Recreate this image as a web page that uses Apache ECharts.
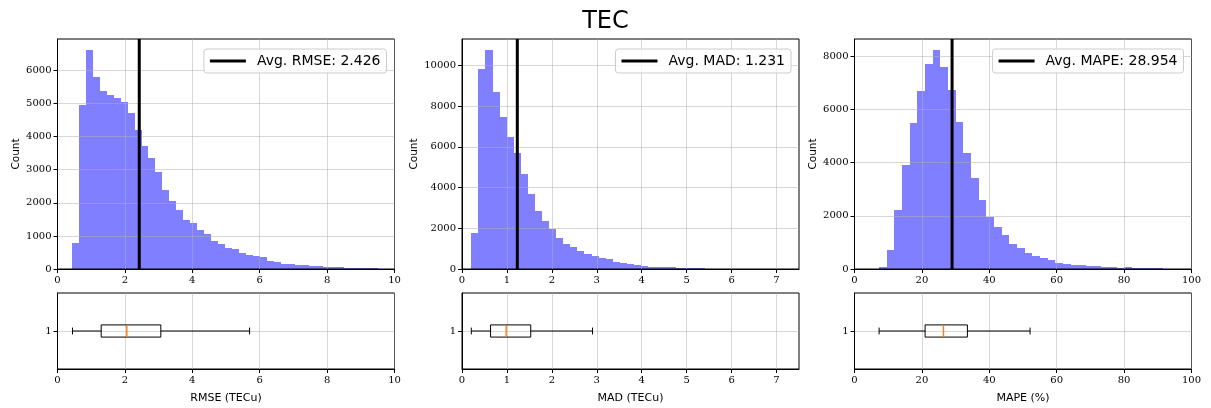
<!DOCTYPE html>
<html>
<head>
<meta charset="utf-8">
<script src="https://cdn.jsdelivr.net/npm/echarts@6/dist/echarts.min.js"></script>
<style>
  html, body { margin: 0; padding: 0; background: #fff; }
  #chart { width: 1211px; height: 408px; }
</style>
</head>
<body>
<div id="chart"></div>
<script>
// Histogram counts (equal-width bins starting at binStart)
const rmseCounts = [780, 4950, 6620, 5800, 5370, 5250, 5160, 5040, 4700, 4190, 3730, 3340, 2940, 2390, 2060, 1790,
  1490, 1380, 1190, 1070, 856, 765, 642, 612, 490, 428, 398, 367, 245, 214, 153, 150, 122, 120, 92, 90, 61, 60, 58,
  31, 30, 28, 26, 24];
const rmseBinStart = 0.425;
const rmseBinWidth = 0.2068;

const madCounts = [1790, 9820, 10760, 8700, 7450, 6460, 5720, 4690, 3700, 2870, 2376, 1980, 1535, 1238, 1090, 890,
  740, 640, 545, 495, 345, 296, 247, 197, 148, 110, 100, 99, 95, 50, 48, 45, 40];
const madBinStart = 0.207;
const madBinWidth = 0.1574;

const mapeCounts = [80, 730, 2230, 3930, 5480, 6690, 7710, 8240, 7590, 6730, 5520, 4350, 3440, 2610, 1960, 1590,
  1285, 945, 793, 605, 491, 403, 340, 227, 189, 151, 145, 113, 110, 76, 75, 38, 76, 38, 35, 30, 25];
const mapeBinStart = 7.3;
const mapeBinWidth = 2.275;

// Averages shown as vertical lines
const rmseMean = 2.426;
const madMean = 1.231;
const mapeMean = 28.954;

// Box plot summaries: [lower whisker, Q1, median, Q3, upper whisker]
const rmseBox = [0.445, 1.296, 2.057, 3.066, 5.70];
const madBox = [0.207, 0.636, 0.983, 1.53, 2.905];
const mapeBox = [7.3, 20.95, 26.4, 33.5, 52.1];

// Axis ranges and tick values
const rmseXMax = 10;
const madXMax = 7.5;
const mapeXMax = 100;
const rmseXTicks = [0, 2, 4, 6, 8, 10];
const madXTicks = [0, 1, 2, 3, 4, 5, 6, 7];
const mapeXTicks = [0, 20, 40, 60, 80, 100];
const rmseYTicks = [0, 1000, 2000, 3000, 4000, 5000, 6000];
const madYTicks = [0, 2000, 4000, 6000, 8000, 10000];
const mapeYTicks = [0, 2000, 4000, 6000, 8000];
const boxYTicks = [1];

const titleText = 'TEC';
const countLabel = 'Count';
const rmseName = 'RMSE (TECu)';
const madName = 'MAD (TECu)';
const mapeName = 'MAPE (%)';

const panels = [
  { counts: rmseCounts, start: rmseBinStart, width: rmseBinWidth, mean: rmseMean, box: rmseBox,
    xMax: rmseXMax, xTicks: rmseXTicks, yTicks: rmseYTicks, metric: 'RMSE', xName: rmseName,
    left: 57.5, countGap: 36 },
  { counts: madCounts, start: madBinStart, width: madBinWidth, mean: madMean, box: madBox,
    xMax: madXMax, xTicks: madXTicks, yTicks: madYTicks, metric: 'MAD', xName: madName,
    left: 462, countGap: 42 },
  { counts: mapeCounts, start: mapeBinStart, width: mapeBinWidth, mean: mapeMean, box: mapeBox,
    xMax: mapeXMax, xTicks: mapeXTicks, yTicks: mapeYTicks, metric: 'MAPE', xName: mapeName,
    left: 854.5, countGap: 36 }
];

const W = 1211;
const PLOT_W = 337;
const HIST_TOP = 39, HIST_H = 230;
const BOX_TOP = 293, BOX_H = 76;
const SERIF = 'DejaVu Serif';
const SANS = 'DejaVu Sans';
const GRID_COLOR = 'rgba(176,176,176,0.5)';
const BAR_FILL = 'rgba(0,0,255,0.5)';
const MEDIAN_COLOR = '#ff7f0e';

function valueAxis(gridIndex, min, max, ticks, extra) {
  return Object.assign({
    type: 'value', gridIndex, min, max, z: 3,
    axisLine: { show: true, onZero: false, lineStyle: { color: '#000', width: 1 } },
    axisTick: { show: true, customValues: ticks, length: 4, lineStyle: { color: '#000', width: 1 } },
    axisLabel: { show: true, customValues: ticks, formatter: v => String(v),
      fontFamily: SERIF, fontSize: 10, color: '#000', margin: 6 },
    splitLine: { show: true, lineStyle: { color: GRID_COLOR, width: 1 } }
  }, extra || {});
}

// Bars are snapped to whole pixels so neighbouring bins join without seams
function renderBar(params, api) {
  const p0 = api.coord([api.value(0), 0]);
  const p1 = api.coord([api.value(1), api.value(2)]);
  const x0 = Math.round(p0[0]), x1 = Math.round(p1[0]);
  const yb = Math.round(p0[1]), yt = Math.round(p1[1]);
  return {
    type: 'rect',
    shape: { x: x0, y: yt, width: x1 - x0, height: yb - yt },
    style: { fill: BAR_FILL }
  };
}

// Horizontal box plot: whiskers with caps, box from Q1 to Q3, median line
function renderBox(params, api) {
  const lo = api.coord([api.value(0), 1]);
  const q1 = api.coord([api.value(1), 1]);
  const med = api.coord([api.value(2), 1]);
  const q3 = api.coord([api.value(3), 1]);
  const hi = api.coord([api.value(4), 1]);
  const bh = api.size([0, 0.16])[1] / 2;
  const ch = api.size([0, 0.09])[1] / 2;
  const y = lo[1];
  const line = (x1, y1, x2, y2, color, w) => ({
    type: 'line', shape: { x1, y1, x2, y2 },
    style: { stroke: color || '#000', lineWidth: w || 1 }
  });
  return {
    type: 'group',
    children: [
      line(lo[0], y, q1[0], y),
      line(q3[0], y, hi[0], y),
      line(lo[0], y - ch, lo[0], y + ch),
      line(hi[0], y - ch, hi[0], y + ch),
      { type: 'rect', shape: { x: q1[0], y: y - bh, width: q3[0] - q1[0], height: 2 * bh },
        style: { fill: 'none', stroke: '#000', lineWidth: 1 } },
      line(med[0], y - bh, med[0], y + bh, MEDIAN_COLOR, 1.4)
    ]
  };
}

const grid = [], xAxis = [], yAxis = [], series = [], legend = [];

panels.forEach((p, i) => {
  const hg = 2 * i, bg = 2 * i + 1;
  const yMax = Math.max(...p.counts) * 1.05;
  const legendName = 'Avg. ' + p.metric + ': ' + p.mean.toFixed(3);

  grid.push({ left: p.left, top: HIST_TOP, width: PLOT_W, height: HIST_H,
    show: true, borderColor: '#000', borderWidth: 1, z: 3 });
  grid.push({ left: p.left, top: BOX_TOP, width: PLOT_W, height: BOX_H,
    show: true, borderColor: '#000', borderWidth: 1, z: 3 });

  xAxis.push(valueAxis(hg, 0, p.xMax, p.xTicks));
  yAxis.push(valueAxis(hg, 0, yMax, p.yTicks, {
    name: countLabel, nameLocation: 'middle', nameGap: p.countGap,
    nameTextStyle: { fontFamily: SANS, fontSize: 10.5, color: '#000' }
  }));
  xAxis.push(valueAxis(bg, 0, p.xMax, p.xTicks, {
    name: p.xName, nameLocation: 'middle', nameGap: 24,
    nameTextStyle: { fontFamily: SANS, fontSize: 11, color: '#000' }
  }));
  yAxis.push(valueAxis(bg, 0.5, 1.5, boxYTicks));

  series.push({
    type: 'custom', xAxisIndex: hg, yAxisIndex: hg, z: 2, silent: true, clip: true,
    renderItem: renderBar,
    encode: { x: [0, 1], y: 2 },
    data: p.counts.map((c, k) => [p.start + k * p.width, p.start + (k + 1) * p.width, c])
  });
  series.push({
    type: 'line', name: legendName, xAxisIndex: hg, yAxisIndex: hg, z: 5, silent: true,
    symbol: 'none', lineStyle: { color: '#000', width: 3 }, itemStyle: { color: '#000' },
    data: [[p.mean, 0], [p.mean, yMax]]
  });
  series.push({
    type: 'custom', xAxisIndex: bg, yAxisIndex: bg, z: 4, silent: true,
    renderItem: renderBox,
    encode: { x: [0, 1, 2, 3, 4] },
    data: [p.box]
  });

  legend.push({
    data: [legendName], selectedMode: false,
    right: W - (p.left + PLOT_W) + 8, top: 49,
    icon: 'rect', itemWidth: 36, itemHeight: 3,
    padding: [5, 6, 5, 6],
    backgroundColor: 'rgba(255,255,255,0.8)', borderColor: '#cccccc', borderWidth: 1, borderRadius: 3,
    textStyle: { fontFamily: SANS, fontSize: 14, color: '#000', padding: [0, 0, 0, 6] }
  });
});

const chart = echarts.init(document.getElementById('chart'), null, { renderer: 'canvas' });
chart.setOption({
  animation: false,
  backgroundColor: '#fff',
  title: { text: titleText, left: 'center', top: 5,
    textStyle: { fontFamily: SANS, fontSize: 24, fontWeight: 'normal', color: '#000' } },
  grid, xAxis, yAxis, series, legend
});
</script>
</body>
</html>
